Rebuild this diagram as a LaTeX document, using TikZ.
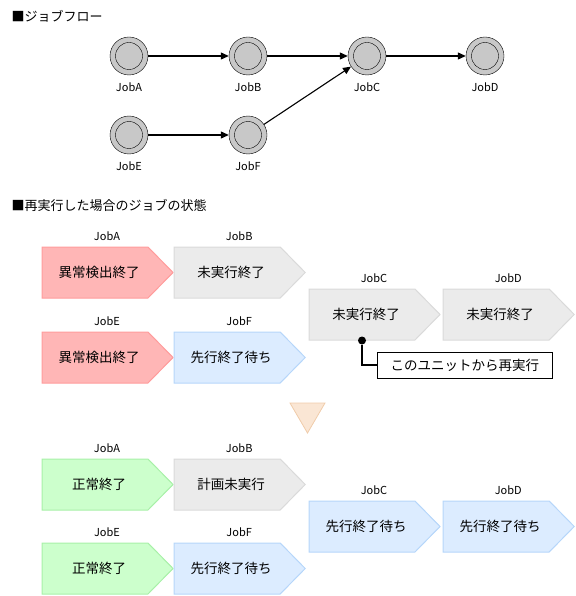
\documentclass[tikz,border=0pt]{standalone}
\usepackage{fontspec}
\setmainfont{Noto Sans CJK JP}
\usepackage{tikz}
\usetikzlibrary{
  positioning,
  arrows.meta,
  shapes.symbols,
}
\definecolor{jobgray}{HTML}{C8C8C8}
\definecolor{redfill}{HTML}{FFB6B6}
\definecolor{redline}{HTML}{FF9C9C}
\definecolor{grayfill}{HTML}{EBEBEB}
\definecolor{grayline}{HTML}{DADADA}
\definecolor{bluefill}{HTML}{DCECFF}
\definecolor{blueline}{HTML}{B6D6FA}
\definecolor{greenfill}{HTML}{CCFFCC}
\definecolor{greenline}{HTML}{A8F0A8}
\definecolor{trifill}{HTML}{FAE6D4}
\definecolor{triline}{HTML}{F0CCAA}
\tikzset{
  caption/.style={font=\fontsize{11}{13}\selectfont},
  job/.style={
    circle,
    draw,
    fill=jobgray,
    minimum size=38pt,
    inner sep=0pt,
    path picture={\draw (path picture bounding box.center) circle (13.5pt);},
    label={[label distance=4pt, caption]below:#1}
  },
  flow/.style={
    -{Triangle[length=8pt, width=7pt]},
    line width=1.1pt
  },
  state/.style={
    signal,
    signal to=east,
    signal pointer angle=91,
    minimum width=131pt,
    minimum height=51pt,
    inner sep=0pt,
    line width=1pt,
    label={[label distance=2pt, xshift=12pt, caption]above:#1}
  },
  failed/.style={state=#1, fill=redfill, draw=redline},
  notrun/.style={state=#1, fill=grayfill, draw=grayline},
  waiting/.style={state=#1, fill=bluefill, draw=blueline},
  ended/.style={state=#1, fill=greenfill, draw=greenline},
  status/.style={label={[xshift=4pt, font=\fontsize{13.5}{16}\selectfont]center:#1}},
  note/.style={draw, line width=0.8pt, minimum height=26pt, minimum width=175pt,
    inner sep=2pt, font=\fontsize{13.5}{16}\selectfont}
}

\begin{document}
\begin{tikzpicture}[x=1pt, y=-1pt]
  \useasboundingbox (0,0) rectangle (575,596);

  %% job flow
  \node[anchor=west, font=\fontsize{13}{15}\selectfont] (title1) at (8,16) {■ジョブフロー};
  \node[job=JobA] (a) at (129,56) {};
  \node[job=JobB] (b) at (248,56) {};
  \node[job=JobC] (c) at (367,56) {};
  \node[job=JobD] (d) at (485,56) {};
  \node[job=JobE] (e) at (129,135) {};
  \node[job=JobF] (f) at (248,135) {};

  \draw[flow] (a) -- (b);
  \draw[flow] (b) -- (c);
  \draw[flow] (c) -- (d);
  \draw[flow] (e) -- (f);
  \draw[flow] (f) -- (c);

  %% states after rerun
  \node[anchor=west, font=\fontsize{13}{15}\selectfont] (title2) at (8,205) {■再実行した場合のジョブの状態};
  \node[failed=JobA, status=異常検出終了] (a1) at (95,272.5) {};
  \node[notrun=JobB, status=未実行終了, right=0pt of a1] (b1) {};
  \node[failed=JobE, status=異常検出終了] (e1) at (95,357.5) {};
  \node[waiting=JobF, status=先行終了待ち, right=0pt of e1] (f1) {};
  \node[notrun=JobC, status=未実行終了] (c1) at (362,314.5) {};
  \node[notrun=JobD, status=未実行終了, right=2pt of c1] (d1) {};

  \node[circle, fill, inner sep=0pt, minimum size=8pt] (hit) at (c1.south) {};
  \node[note, anchor=west] (rerun) at (377,365) {このユニットから再実行};
  \draw[line width=1.5pt] (hit) |- (rerun);

  \draw[fill=trifill, draw=triline, line width=0.8pt] (290,403) -- (325,403) -- (307.5,433) -- cycle;

  \node[ended=JobA, status=正常終了] (a2) at (95,484.5) {};
  \node[notrun=JobB, status=計画未実行, right=0pt of a2] (b2) {};
  \node[ended=JobE, status=正常終了] (e2) at (95,568.5) {};
  \node[waiting=JobF, status=先行終了待ち, right=0pt of e2] (f2) {};
  \node[waiting=JobC, status=先行終了待ち] (c2) at (362,526.5) {};
  \node[waiting=JobD, status=先行終了待ち, right=2pt of c2] (d2) {};
\end{tikzpicture}
\end{document}
